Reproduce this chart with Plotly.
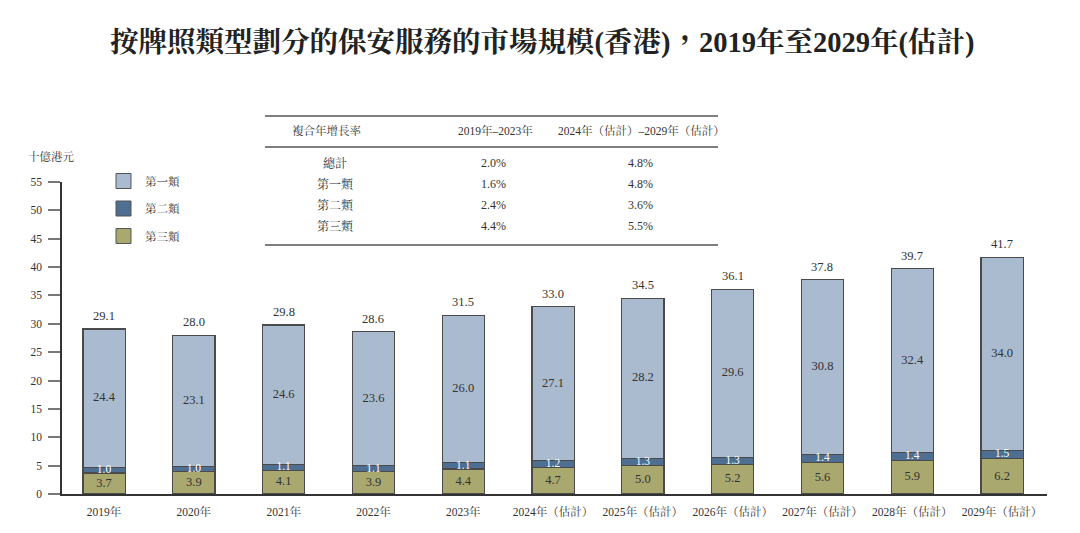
import plotly.graph_objects as go

years = ["2019年", "2020年", "2021年", "2022年", "2023年", "2024年（估計）", "2025年（估計）",
         "2026年（估計）", "2027年（估計）", "2028年（估計）", "2029年（估計）"]
cat1 = [24.4, 23.1, 24.6, 23.6, 26.0, 27.1, 28.2, 29.6, 30.8, 32.4, 34.0]
cat2 = [1.0, 1.0, 1.1, 1.1, 1.1, 1.2, 1.3, 1.3, 1.4, 1.4, 1.5]
cat3 = [3.7, 3.9, 4.1, 3.9, 4.4, 4.7, 5.0, 5.2, 5.6, 5.9, 6.2]
totals = [29.1, 28.0, 29.8, 28.6, 31.5, 33.0, 34.5, 36.1, 37.8, 39.7, 41.7]
series_names = ["第一類", "第二類", "第三類"]
colors = ["#AABACF", "#4E6F92", "#A9A86F"]

table_header = ["複合年增長率", "2019年–2023年", "2024年（估計）–2029年（估計）"]
table_rows = ["總計", "第一類", "第二類", "第三類"]
cagr_1923 = ["2.0%", "1.6%", "2.4%", "4.4%"]
cagr_2429 = ["4.8%", "4.8%", "3.6%", "5.5%"]

FONT = "Liberation Serif, Noto Serif CJK TC, Noto Sans CJK TC"
TXT = "#333333"

# page body has an 8px margin; figure is sized to fit the window
OFF = 8
W, H = 1080 - OFF, 533 - OFF
# plot area in reference (window) pixel coordinates
L_ref, R_ref, T_ref, B_ref = 62, 1047, 182, 494
L, T = L_ref - OFF, T_ref - OFF
R = W - (R_ref - OFF)
B = H - (B_ref - OFF)
pw, ph = W - L - R, H - T - B


def px(xr):
    return (xr - OFF - L) / pw


def py(yr):
    return (H - B - (yr - OFF)) / ph


fig = go.Figure()
x = list(range(len(years)))
for vals, name, col in [(cat3, series_names[2], colors[2]),
                        (cat2, series_names[1], colors[1]),
                        (cat1, series_names[0], colors[0])]:
    fig.add_trace(go.Bar(x=x, y=vals, name=name,
                         marker=dict(color=col, line=dict(color="#4a4a4a", width=1.2)),
                         width=0.47, showlegend=False, hoverinfo="skip"))

# segment labels
mid3 = [v / 2 for v in cat3]
mid2 = [a + b / 2 for a, b in zip(cat3, cat2)]
mid1 = [a + b + c / 2 for a, b, c in zip(cat3, cat2, cat1)]
fig.add_trace(go.Scatter(x=x, y=mid3, mode="text", text=[f"{v:.1f}" for v in cat3],
                         textfont=dict(family=FONT, size=12.5, color=TXT), showlegend=False, hoverinfo="skip"))
fig.add_trace(go.Scatter(x=x, y=mid2, mode="text", text=[f"{v:.1f}" for v in cat2],
                         textfont=dict(family=FONT, size=11.5, color="white"), showlegend=False, hoverinfo="skip"))
fig.add_trace(go.Scatter(x=x, y=mid1, mode="text", text=[f"{v:.1f}" for v in cat1],
                         textfont=dict(family=FONT, size=12.5, color=TXT), showlegend=False, hoverinfo="skip"))

ann = []
shapes = []
# totals above bars
for xi, t in zip(x, totals):
    ann.append(dict(x=xi, y=t, xref="x", yref="y", text=f"{t:.1f}", showarrow=False,
                    yanchor="bottom", yshift=4, font=dict(family=FONT, size=12.5, color=TXT)))

ann.append(dict(text="<b>按牌照類型劃分的保安服務的市場規模(香港)，2019年至2029年(估計)</b>",
                xref="paper", yref="paper", x=px(542), y=py(43), xanchor="center", yanchor="middle",
                font=dict(family=FONT, size=28.5, color="#222"), showarrow=False))
ann.append(dict(text="十億港元", xref="paper", yref="paper", x=px(26), y=py(156), xanchor="left", yanchor="middle",
                font=dict(family=FONT, size=11.5, color=TXT), showarrow=False))

# legend
for i, (name, col) in enumerate(zip(series_names, colors)):
    yc = 181 + i * 27.5
    shapes.append(dict(type="rect", xref="paper", yref="paper", x0=px(116), x1=px(131),
                       y0=py(yc - 7.5), y1=py(yc + 7.5),
                       fillcolor=col, line=dict(color="#555", width=1)))
    ann.append(dict(text=name, xref="paper", yref="paper", x=px(143), y=py(yc), xanchor="left", yanchor="middle",
                    font=dict(family=FONT, size=11.5, color=TXT), showarrow=False))

# CAGR table
for yl in [116, 147, 245]:
    shapes.append(dict(type="line", xref="paper", yref="paper", x0=px(265), x1=px(718), y0=py(yl), y1=py(yl),
                       line=dict(color="#555", width=1.5)))
for txt, xc in zip(table_header, [326, 495, 641]):
    ann.append(dict(text=txt, xref="paper", yref="paper", x=px(xc), y=py(131), xanchor="center", yanchor="middle",
                    font=dict(family=FONT, size=11.5, color=TXT), showarrow=False))
for i, (rn, a, b) in enumerate(zip(table_rows, cagr_1923, cagr_2429)):
    yc = 163 + i * 21
    for txt, xc in zip([rn, a, b], [335, 493, 640]):
        ann.append(dict(text=txt, xref="paper", yref="paper", x=px(xc), y=py(yc), xanchor="center",
                        yanchor="middle", font=dict(family=FONT, size=12, color=TXT), showarrow=False))

fig.update_layout(
    width=W, height=H,
    margin=dict(l=L, r=R, t=T, b=B, autoexpand=False),
    paper_bgcolor="white", plot_bgcolor="white",
    barmode="stack",
    font=dict(family=FONT, size=11, color=TXT),
    xaxis=dict(tickmode="array", tickvals=x, ticktext=years, range=[-0.468, 10.5],
               showline=True, linecolor="#333", linewidth=1.5, ticks="", showgrid=False,
               tickfont=dict(family=FONT, size=11.5, color=TXT), zeroline=False, fixedrange=True,
               ticklabelstandoff=6),
    yaxis=dict(range=[0, 55], tickvals=list(range(0, 56, 5)), showline=True, linecolor="#333",
               linewidth=1.5, ticks="outside", ticklen=12, tickwidth=1.5, tickcolor="#777",
               showgrid=False, zeroline=False, tickfont=dict(family=FONT, size=11.5, color=TXT),
               ticklabelstandoff=4, fixedrange=True),
    annotations=ann, shapes=shapes,
)
fig.write_html("out.html")
